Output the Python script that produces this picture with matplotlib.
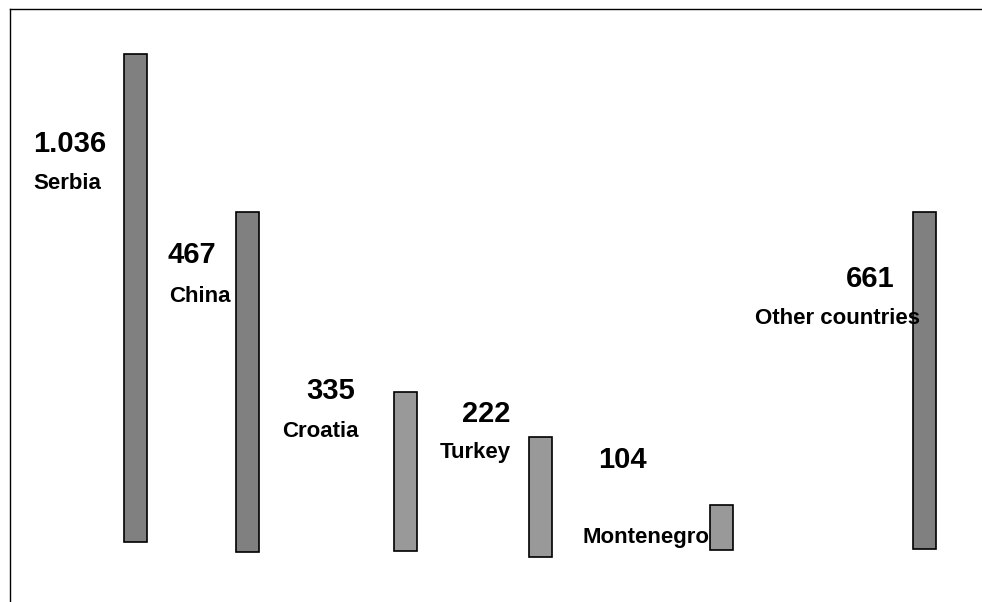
import matplotlib.pyplot as plt

plt.rcParams['font.family'] = ['Liberation Sans', 'DejaVu Sans']

countries = ["Serbia", "China", "Croatia", "Turkey", "Montenegro", "Other countries"]
values = ["1.036", "467", "335", "222", "104", "661"]

# floating bars (chart units, 0 = bottom edge)
bar_low = [60, 50, 51, 45, 52, 53]
bar_high = [548, 390, 210, 165, 97, 390]
bar_x = [135, 247.5, 405.5, 540.5, 721.5, 924]
bar_colors = ["#808080", "#808080", "#999999", "#999999", "#999999", "#808080"]

# label anchors (left edge, baseline)
num_pos = [(33, 450), (168, 339), (306, 203), (462, 180), (598, 134), (846, 315)]
name_pos = [(33, 413), (169, 300), (282, 165), (440, 144), (582, 59), (755, 278)]

fig = plt.figure(figsize=(9.82, 6.02), dpi=100)
ax = fig.add_axes([10 / 982, 0, 972 / 982, 593 / 602])
ax.set_xlim(10, 982)
ax.set_ylim(0, 593)

heights = [h - l for h, l in zip(bar_high, bar_low)]
ax.bar(bar_x, heights, bottom=bar_low, width=23, color=bar_colors,
       edgecolor="black", linewidth=1.2, zorder=1)

for i in range(len(countries)):
    ax.text(num_pos[i][0], num_pos[i][1], values[i], fontsize=21,
            fontweight="bold", ha="left", va="baseline", zorder=2)
    ax.text(name_pos[i][0], name_pos[i][1], countries[i], fontsize=16,
            fontweight="bold", ha="left", va="baseline", zorder=2)

ax.spines["right"].set_visible(False)
ax.spines["bottom"].set_visible(False)
ax.spines["top"].set_linewidth(1.0)
ax.spines["left"].set_linewidth(1.0)
ax.set_xticks([])
ax.set_yticks([])

fig.savefig("out.png", dpi=100)
